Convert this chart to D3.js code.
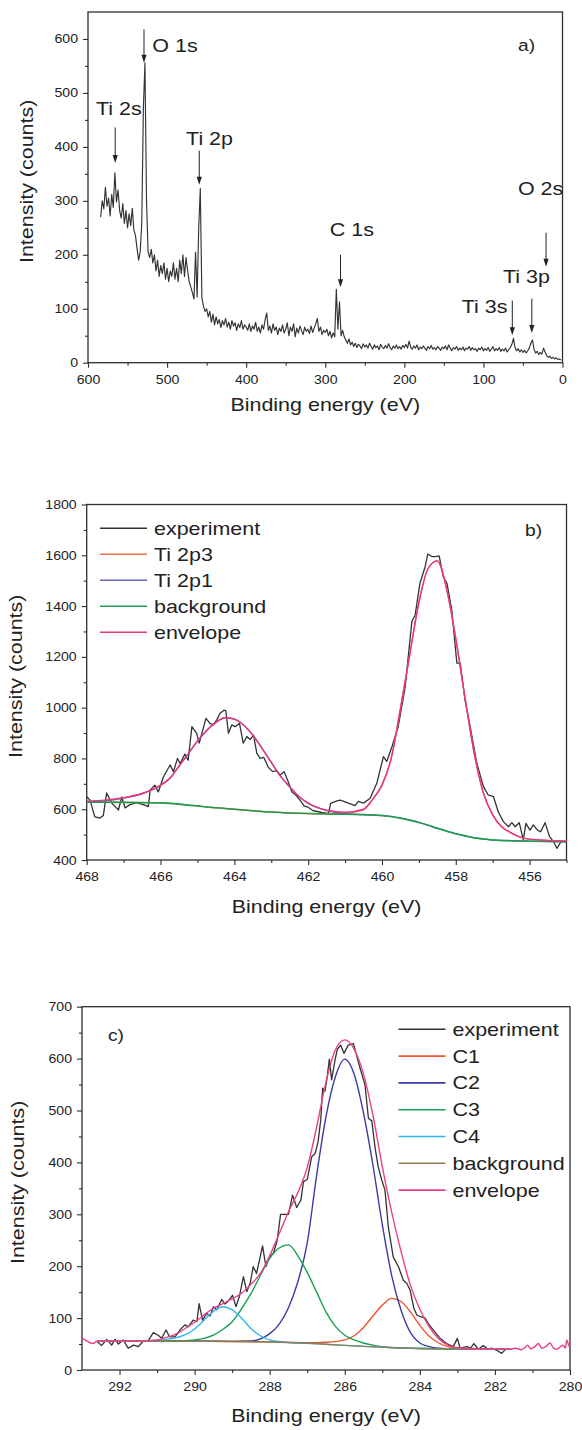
<!DOCTYPE html>
<html>
<head>
<meta charset="utf-8">
<script src="https://cdn.jsdelivr.net/npm/d3@7"></script>
<style>
  html, body { margin: 0; padding: 0; background: #fff; }
  svg { display: block; }
  text { font-family: "Liberation Sans", Arial, Helvetica, sans-serif; fill: #222; }
</style>
</head>
<body>
<svg id="fig" width="582" height="1430"></svg>
<script>
// ---------- (a) survey spectrum ----------
const surveyEnergy = [
  584,582,580,578,576,574,572,570,568,566,564,562,560,558,556,554,552,550,548,546,
  544,542,540,538,536,534,532,530,528,526,524,522,520,518,516,514,512,510,508,506,
  504,502,500,498,496,494,492,490,488,486,484,482,480,478,476,474,472,470,468,466,
  464,462,460,458,456,454,452,450,448,446,444,442,440,438,436,434,432,430,428,426,
  424,422,420,418,416,414,412,410,408,406,404,402,400,398,396,394,392,390,388,386,
  384,382,380,378,376,374,372,370,368,366,364,362,360,358,356,354,352,350,348,346,
  344,342,340,338,336,334,332,330,328,326,324,322,320,318,316,314,312,310,308,306,
  304,302,300,298,296,294,292,290,288,286,284,282,280,278,276,274,272,270,268,266,
  264,262,260,258,256,254,252,250,248,246,244,242,240,238,236,234,232,230,228,226,
  224,222,220,218,216,214,212,210,208,206,204,202,200,198,196,194,192,190,188,186,
  184,182,180,178,176,174,172,170,168,166,164,162,160,158,156,154,152,150,148,146,
  144,142,140,138,136,134,132,130,128,126,124,122,120,118,116,114,112,110,108,106,
  104,102,100,98,96,94,92,90,88,86,84,82,80,78,76,74,72,70,68,66,
  64,62,60,58,56,54,52,50,48,46,44,42,40,38,36,34,32,30,28,26,
  24,22,20,18,16,14,12,10,8,6,4,2
];
const surveyCounts = [
  270,300,285,325,290,305,272,312,288,352,298,320,282,268,295,258,282,250,276,254,
  286,246,236,212,190,205,260,470,556,300,205,195,210,185,200,170,190,160,180,165,
  185,155,175,150,170,160,185,155,175,150,190,165,200,160,195,170,150,140,130,118,
  205,122,250,323,120,105,95,100,85,95,75,90,70,85,72,80,65,78,70,82,
  66,75,62,78,68,74,60,72,65,78,62,70,66,60,72,58,68,62,75,58,
  66,55,70,62,80,92,60,68,55,72,60,66,52,64,58,70,55,62,74,50,
  66,58,72,48,64,55,68,60,52,66,58,62,54,68,56,64,72,82,58,66,
  52,60,56,62,50,58,46,55,48,136,62,113,50,60,48,42,36,44,33,38,
  30,36,28,34,31,26,35,29,33,27,36,30,25,33,28,31,24,34,29,26,
  32,27,35,28,24,31,27,33,26,30,25,32,28,34,27,40,29,25,31,27,
  33,24,29,26,31,27,23,30,26,32,25,28,24,30,27,23,29,26,31,24,
  33,27,22,28,25,30,23,27,24,29,22,27,25,30,23,28,24,26,21,27,
  24,29,22,26,23,28,21,25,30,22,26,23,28,21,25,22,27,20,24,28,
  34,45,28,22,26,20,24,19,23,18,22,27,36,42,25,18,21,15,19,16,
  27,20,13,10,12,8,10,7,9,6,7,5
];
const surveyXTicks = [600, 500, 400, 300, 200, 100, 0];
const surveyXMinor = [550, 450, 350, 250, 150, 50];
const surveyYTicks = [0, 100, 200, 300, 400, 500, 600];
const surveyYMinor = [50, 150, 250, 350, 450, 550];
// peak labels: text anchor (energy, counts) and arrow (energy, top, tip)
const peakNames  = ["Ti 2s", "O 1s", "Ti 2p", "C 1s", "Ti 3s", "Ti 3p", "O 2s"];
const peakTextE  = [589.9, 518.6, 476.0, 294.3, 127.4, 75.2, 56.4];
const peakTextI  = [459, 576, 404, 234, 92, 147, 311];
const peakArrowE = [565.6, 529.2, 459.3, 280.7, 63.5, 38.8, 20.8];
const peakArrowTop = [436, 618, 393, 200, 115, 119, 241];
const peakArrowTip = [370, 556, 330, 140, 51, 55, 178];

// ---------- (b) Ti 2p ----------
const tiExp = [
  [468.00,649],[467.91,636],[467.78,570],[467.64,565],[467.55,575],[467.46,664],[467.32,624],
  [467.14,597],[467.05,648],[466.96,605],[466.83,618],[466.64,626],[466.37,613],[466.33,610],
  [466.28,676],[466.15,695],[466.06,668],[465.92,728],[465.74,774],[465.65,748],[465.54,800],
  [465.47,780],[465.34,817],[465.25,793],[465.15,925],[465.02,899],[464.95,860],[464.88,899],
  [464.77,958],[464.66,938],[464.57,932],[464.48,951],[464.39,977],[464.28,990],[464.23,987],
  [464.16,899],[464.07,932],[463.98,925],[463.86,938],[463.76,860],[463.66,886],[463.57,875],
  [463.48,892],[463.39,820],[463.30,800],[463.20,804],[463.08,765],[462.96,748],[462.85,752],
  [462.76,735],[462.65,748],[462.54,708],[462.44,668],[462.33,655],[462.22,636],[462.11,613],
  [461.99,607],[461.86,594],[461.72,590],[461.59,586],[461.45,584],[461.39,623],[461.22,633],
  [461.13,636],[460.91,624],[460.73,614],[460.64,631],[460.50,624],[460.32,643],[460.14,702],
  [459.96,807],[459.87,788],[459.73,846],[459.56,925],[459.37,1083],[459.19,1339],[459.10,1365],
  [458.97,1490],[458.83,1555],[458.76,1605],[458.65,1595],[458.56,1595],[458.45,1598],[458.34,1516],
  [458.24,1490],[458.11,1385],[457.97,1175],[457.88,1175],[457.75,1030],[457.61,925],[457.43,781],
  [457.25,689],[457.12,656],[456.98,650],[456.85,590],[456.71,551],[456.57,531],[456.48,547],
  [456.39,531],[456.28,547],[456.17,479],[456.10,544],[455.99,518],[455.90,538],[455.79,518],
  [455.70,511],[455.58,547],[455.46,492],[455.35,472],[455.26,446],[455.15,472],[455.01,472]
];
const tiFitE = [468,467.5,467,466.5,466,465.75,465.5,465.25,465,464.75,464.5,464.25,464,463.75,
  463.5,463.25,463,462.75,462.5,462.25,462,461.5,461,460.5,460.25,460,459.75,459.5,459.25,459,
  458.75,458.5,458.25,458,457.75,457.5,457.25,457,456.75,456.5,456.25,456,455.5,455];
const ti2p3 = [628,627.5,627,626,625,623,620,616,613,609,606,603,600,597,594,591,589,587,585,584,
  583,582,585,598,639,695,800,995,1206,1414,1548,1578,1469,1272,1039,820,663,578,530,507,490,482,477,474];
const ti2p1 = [629,633,644,661,694,721,769,818,868,910,942,960,955,932,892,840,785,730,688,650,
  623,595,583,579,577,575,571,565,557,548,537,525,514,503,495,487,483,479,477,476,475,474,473,472];
const tiBackground = [628,627.5,627,626,625,623,620,616,613,609,606,603,600,597,594,591,589,587,585,584,
  583,581,580,578,577,575,571,565,557,548,537,525,514,503,495,487,483,479,477,476,475,474,473,472];
const tiEnvelope = [632,636,645,662,695,722,770,818,868,910,942,960,955,932,892,840,785,730,688,650,
  624,596,588,600,640,695,800,995,1206,1414,1548,1578,1469,1272,1039,820,663,578,530,507,490,482,477,474];
const tiXTicks = [468, 466, 464, 462, 460, 458, 456];
const tiXMinor = [467, 465, 463, 461, 459, 457, 455];
const tiYTicks = [400, 600, 800, 1000, 1200, 1400, 1600, 1800];
const tiYMinor = [500, 700, 900, 1100, 1300, 1500, 1700];
const tiSeriesNames = ["experiment", "Ti 2p3", "Ti 2p1", "background", "envelope"];

// ---------- (c) C 1s ----------
const cExp = [
  [292.61,56],[292.48,47],[292.34,59],[292.21,48],[292.12,59],[292.03,50],[291.90,58],[291.77,42],
  [291.63,48],[291.50,45],[291.38,55],[291.23,57],[291.10,72],[290.97,67],[290.88,61],[290.76,77],
  [290.67,64],[290.52,64],[290.39,77],[290.26,87],[290.17,83],[290.04,96],[289.94,93],[289.88,128],
  [289.79,96],[289.68,109],[289.59,104],[289.50,122],[289.41,116],[289.28,136],[289.19,127],
  [289.08,135],[288.99,144],[288.90,122],[288.81,141],[288.70,180],[288.61,151],[288.52,167],
  [288.44,199],[288.35,186],[288.19,239],[288.10,199],[288.01,218],[287.90,225],[287.80,250],
  [287.71,300],[287.50,300],[287.39,337],[287.28,313],[287.17,327],[287.10,363],[287.00,367],
  [286.88,411],[286.79,417],[286.71,440],[286.64,482],[286.59,543],[286.53,537],[286.48,559],
  [286.41,599],[286.35,559],[286.26,597],[286.20,618],[286.11,626],[286.02,610],[285.91,626],
  [285.77,629],[285.70,610],[285.59,581],[285.46,549],[285.37,485],[285.28,480],[285.19,427],
  [285.11,392],[285.02,367],[284.93,347],[284.84,276],[284.71,218],[284.57,199],[284.44,173],
  [284.35,167],[284.26,154],[284.16,119],[284.08,106],[283.98,103],[283.86,100],[283.78,90],
  [283.64,77],[283.46,61],[283.29,51],[283.11,45],[283.00,61],[282.93,42],[282.75,45],[282.65,42],
  [282.56,51],[282.44,40],[282.31,47],[282.18,40],[282.09,42],[281.95,38],[281.82,32],[281.69,42]
];
const cC1 = [[292.6,56],[290,55.5],[288,54.2],[287.5,53.2],[287,52.5],[286.5,53.5],[286,58],
  [285.75,66],[285.5,82],[285.25,104],[285,125],[284.75,138],[284.5,132],[284.25,112],[284,86],
  [283.75,65],[283.5,52],[283.25,45],[283,42],[282.5,40.5],[282,40],[281.6,40]];
const cC2 = [[292.6,56],[290,55.5],[289,55.2],[288.5,56],[288,70],[287.75,88],[287.5,120],
  [287.25,170],[287,245],[286.75,375],[286.5,488],[286.25,565],[286,599],[285.75,570],[285.5,495],
  [285.25,395],[285,280],[284.75,182],[284.5,115],[284.25,72],[284,52],[283.75,45],[283.5,42],
  [283,40.5],[282,40],[281.6,40]];
const cC3 = [[292.6,56],[291,56],[290.5,56],[290,58],[289.75,61],[289.5,67],[289.25,78],[289,93],
  [288.75,118],[288.5,147],[288.25,182],[288,215],[287.75,235],[287.5,241],[287.25,220],[287,188],
  [286.75,150],[286.5,112],[286.25,84],[286,67],[285.75,58],[285.5,52],[285.25,48],[285,45],
  [284.5,42.5],[284,41.5],[283,40.5],[282,40],[281.6,40]];
const cC4 = [[292.6,56],[291.5,56],[291,57],[290.75,59],[290.5,62],[290.25,68],[290,79],
  [289.75,96],[289.5,113],[289.25,122],[289,116],[288.75,100],[288.5,80],[288.25,66],[288,58],
  [287.75,55],[287.5,53],[287,51.5],[286.5,49.5],[286,47.5],[285.5,45.5],[285,44],[284.5,42.5],
  [284,41.5],[283.5,41],[283,40.5],[282,40],[281.6,40]];
const cBackground = [[292.6,56],[291,56],[290,55.5],[289,55],[288,54],[287.5,53],[287,51.5],
  [286.5,49.5],[286,47.5],[285.5,45.5],[285,44],[284.5,42.5],[284,41.5],[283.5,41],[283,40.5],
  [282,40],[281.6,40]];
const cEnvelope = [[293,61],[292.9,57],[292.8,53],[292.7,51],[292.6,56],[292.4,56],[292,56],
  [291.5,56],[291,58],[290.75,63],[290.5,69],[290.25,80],[290,92],[289.75,106],[289.5,119],
  [289.25,128],[289,137],[288.75,148],[288.5,165],[288.25,186],[288,220],[287.75,262],[287.5,305],
  [287.25,342],[287,390],[286.75,468],[286.5,555],[286.25,617],[286,636],[285.75,618],[285.5,570],
  [285.25,491],[285,392],[284.75,304],[284.5,228],[284.25,163],[284,117],[283.75,83],[283.5,60],
  [283.25,48],[283,43],[282.5,41],[282,40],[281.6,40],[281.45,42],[281.3,39],[281.2,43],
  [281.13,48],[281.05,41],[280.95,44],[280.84,51],[280.75,42],[280.65,45],[280.53,52],[280.45,43],
  [280.36,40],[280.27,44],[280.18,48],[280.12,42],[280.09,58],[280.03,47],[280,44]];
const cXTicks = [292, 290, 288, 286, 284, 282, 280];
const cXMinor = [291, 289, 287, 285, 283, 281];
const cYTicks = [0, 100, 200, 300, 400, 500, 600, 700];
const cYMinor = [50, 150, 250, 350, 450, 550, 650];
const cSeriesNames = ["experiment", "C1", "C2", "C3", "C4", "background", "envelope"];

// ---------- drawing ----------
const INK = "#2e2e2e";
const SX = 1.13;             // glyphs in this figure are set slightly wide
const svg = d3.select("#fig");

function label(parent, x, y, str, size, anchor, rotate) {
  return parent.append("text")
    .attr("transform", `translate(${x},${y})${rotate ? " rotate(-90)" : ""} scale(${SX},1)`)
    .attr("text-anchor", anchor || "start")
    .style("font-size", size + "px")
    .text(str);
}

function makePanel(cfg, id) {
  const g = svg.append("g");
  const x = d3.scaleLinear().domain(cfg.xDomain).range([cfg.left, cfg.right]);
  const y = d3.scaleLinear().domain(cfg.yDomain).range([cfg.bottom, cfg.top]);

  g.append("clipPath").attr("id", "clip-" + id)
    .append("rect").attr("x", cfg.left).attr("y", cfg.top)
    .attr("width", cfg.right - cfg.left).attr("height", cfg.bottom - cfg.top);

  const styleAxis = (sel, side) => {
    sel.select(".domain").remove();
    sel.selectAll(".tick line").attr("stroke", INK).attr("stroke-width", 1.1);
    sel.selectAll(".tick text").attr("fill", INK)
      .style("font-family", '"Liberation Sans", Arial, sans-serif').style("font-size", "12.5px")
      .attr("transform", `scale(${SX},1)`)
      .attr("x", function () { return side === "left" ? -10 / SX : 0; });
  };
  g.append("g").attr("transform", `translate(0,${cfg.bottom})`)
    .call(d3.axisBottom(x).tickValues(cfg.xMinor).tickSize(3).tickFormat("")).call(styleAxis, "bottom");
  g.append("g").attr("transform", `translate(0,${cfg.bottom})`)
    .call(d3.axisBottom(x).tickValues(cfg.xTicks).tickSize(5).tickPadding(7).tickFormat(d3.format("d")))
    .call(styleAxis, "bottom");
  g.append("g").attr("transform", `translate(${cfg.left},0)`)
    .call(d3.axisLeft(y).tickValues(cfg.yMinor).tickSize(3).tickFormat("")).call(styleAxis, "left");
  g.append("g").attr("transform", `translate(${cfg.left},0)`)
    .call(d3.axisLeft(y).tickValues(cfg.yTicks).tickSize(5).tickPadding(5).tickFormat(d3.format("d")))
    .call(styleAxis, "left");

  g.append("rect").attr("x", cfg.left).attr("y", cfg.top)
    .attr("width", cfg.right - cfg.left).attr("height", cfg.bottom - cfg.top)
    .attr("fill", "none").attr("stroke", INK).attr("stroke-width", 1.3);

  label(g, (cfg.left + cfg.right) / 2, cfg.bottom + cfg.titleGap, "Binding energy (eV)", 19, "middle");
  label(g, cfg.yTitleX, (cfg.top + cfg.bottom) / 2 - 6, "Intensity (counts)", 19, "middle", true);

  const plot = g.append("g").attr("clip-path", `url(#clip-${id})`);
  return { g, plot, x, y };
}

function drawLine(p, data, color, width, smooth) {
  const line = d3.line().x(d => p.x(d[0])).y(d => p.y(d[1]));
  if (smooth) line.curve(d3.curveMonotoneX);
  p.plot.append("path").datum(data)
    .attr("d", line).attr("fill", "none")
    .attr("stroke", color).attr("stroke-width", width)
    .attr("stroke-linejoin", "round");
}

function legend(g, names, colors, x0, y0, step) {
  names.forEach((n, i) => {
    const yy = y0 + i * step;
    g.append("line").attr("x1", x0).attr("x2", x0 + 47).attr("y1", yy).attr("y2", yy)
      .attr("stroke", colors[i]).attr("stroke-width", 1.6);
    label(g, x0 + 54, yy + 6.5, n, 19, "start");
  });
}

// (a)
const pa = makePanel({
  left: 88, right: 562.5, top: 12, bottom: 362.7,
  xDomain: [600, 0], yDomain: [0, 650],
  xTicks: surveyXTicks, xMinor: surveyXMinor, yTicks: surveyYTicks, yMinor: surveyYMinor,
  titleGap: 48, yTitleX: 33
}, "a");
drawLine(pa, surveyEnergy.map((e, i) => [e, surveyCounts[i]]), "#333", 1.15, false);
peakNames.forEach((n, i) => {
  const ax = pa.x(peakArrowE[i]);
  const y0 = pa.y(peakArrowTop[i]);
  const y1 = pa.y(peakArrowTip[i]);
  pa.g.append("line").attr("x1", ax).attr("x2", ax).attr("y1", y0).attr("y2", y1 - 5)
    .attr("stroke", "#222").attr("stroke-width", 1);
  pa.g.append("path")
    .attr("d", `M${ax - 2.6},${y1 - 8} L${ax + 2.6},${y1 - 8} L${ax},${y1} Z`)
    .attr("fill", "#222");
  label(pa.g, pa.x(peakTextE[i]), pa.y(peakTextI[i]), n, 19, "start");
});
label(pa.g, 518, 51, "a)", 17, "start");

// (b)
const tiColors = ["#333333", "#f4704e", "#6666bb", "#1f9d4f", "#e8357f"];
const pb = makePanel({
  left: 86.7, right: 566.5, top: 504.5, bottom: 860,
  xDomain: [468, 455], yDomain: [400, 1800],
  xTicks: tiXTicks, xMinor: tiXMinor, yTicks: tiYTicks, yMinor: tiYMinor,
  titleGap: 53, yTitleX: 22
}, "b");
drawLine(pb, tiExp, tiColors[0], 1.3, false);
drawLine(pb, tiFitE.map((e, i) => [e, ti2p3[i]]), tiColors[1], 1.4, true);
drawLine(pb, tiFitE.map((e, i) => [e, ti2p1[i]]), tiColors[2], 1.4, true);
drawLine(pb, tiFitE.map((e, i) => [e, tiBackground[i]]), tiColors[3], 1.6, true);
drawLine(pb, tiFitE.map((e, i) => [e, tiEnvelope[i]]), tiColors[4], 1.4, true);
legend(pb.g, tiSeriesNames, tiColors, 100, 528.3, 26);
label(pb.g, 525, 536, "b)", 17, "start");

// (c)
const cColors = ["#333333", "#f0552f", "#3b3ba6", "#17a04f", "#2db7ee", "#8b7d55", "#e8408a"];
const pc = makePanel({
  left: 82, right: 570, top: 1006.7, bottom: 1370,
  xDomain: [293, 280], yDomain: [0, 700],
  xTicks: cXTicks, xMinor: cXMinor, yTicks: cYTicks, yMinor: cYMinor,
  titleGap: 52, yTitleX: 24
}, "c");
drawLine(pc, cExp, cColors[0], 1.3, false);
drawLine(pc, cC1, cColors[1], 1.4, true);
drawLine(pc, cC2, cColors[2], 1.4, true);
drawLine(pc, cC3, cColors[3], 1.4, true);
drawLine(pc, cC4, cColors[4], 1.4, true);
drawLine(pc, cBackground, cColors[5], 1.4, true);
drawLine(pc, cEnvelope, cColors[6], 1.4, true);
legend(pc.g, cSeriesNames, cColors, 398.5, 1029.3, 26.8);
label(pc.g, 108, 1041, "c)", 17, "start");
</script>
</body>
</html>
